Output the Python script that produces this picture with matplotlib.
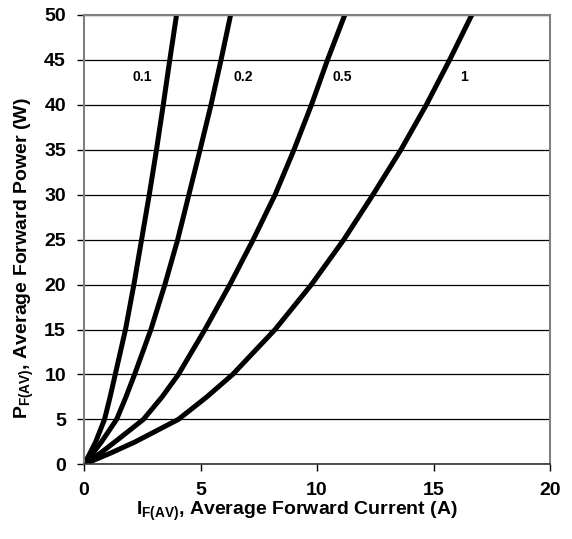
import matplotlib.pyplot as plt

plt.rcParams['font.family'] = 'Liberation Sans'
plt.rcParams['font.weight'] = 'bold'
plt.rcParams['mathtext.fontset'] = 'custom'
plt.rcParams['mathtext.rm'] = 'Liberation Sans:bold'
plt.rcParams['mathtext.it'] = 'Liberation Sans:bold'
plt.rcParams['mathtext.bf'] = 'Liberation Sans:bold'

# forward power (W) and the current (A)
power = [0, 1.2, 2.5, 5, 7.5, 10, 15, 20, 25, 30, 35, 40, 45, 50]
current_01 = [0, 0.25, 0.50, 0.88, 1.12, 1.34, 1.78, 2.14, 2.47, 2.80, 3.11, 3.40, 3.68, 3.97]
current_02 = [0, 0.37, 0.75, 1.40, 1.80, 2.17, 2.87, 3.47, 4.02, 4.50, 4.98, 5.45, 5.88, 6.29]
current_05 = [0, 0.68, 1.33, 2.55, 3.35, 4.05, 5.19, 6.26, 7.26, 8.20, 9.01, 9.76, 10.45, 11.19]
current_1 = [0, 1.10, 2.20, 4.05, 5.27, 6.38, 8.2, 9.76, 11.15, 12.4, 13.6, 14.69, 15.69, 16.64]

labels = ['0.1', '0.2', '0.5', '1']
label_x = [2.5, 6.85, 11.1, 16.3]
label_y = 43.1

fig = plt.figure(figsize=(5.72, 5.39), dpi=100)
ax = fig.add_axes([0.1469, 0.1386, 0.8147, 0.8336])

for cur in [current_01, current_02, current_05, current_1]:
    ax.plot(cur, power, color='black', linewidth=3.6, solid_joinstyle='round')

for lab, lx in zip(labels, label_x):
    ax.text(lx, label_y, lab, fontsize=10, fontweight='bold', ha='center', va='center')

ax.set_xlim(0, 20)
ax.set_ylim(0, 50)
ax.set_xticks([0, 5, 10, 15, 20])
ax.set_yticks(range(0, 51, 5))
ax.yaxis.grid(True, color='black', linewidth=0.9)
ax.set_axisbelow(True)

for side in ['top', 'right', 'left']:
    ax.spines[side].set_color('#808080')
    ax.spines[side].set_linewidth(1.5)
ax.spines['bottom'].set_color('#333333')
ax.spines['bottom'].set_linewidth(1.2)

ax.tick_params(axis='x', direction='out', length=5, width=1, pad=8, labelsize=14)
ax.tick_params(axis='y', direction='out', length=5, width=1, pad=8, labelsize=14)

ax.set_xlabel(r'$I_{F(AV)}$, Average Forward Current (A)', fontsize=14, fontweight='bold',
              labelpad=0, x=0.457)
ax.set_ylabel(r'$P_{F(AV)}$, Average Forward Power (W)', fontsize=14, fontweight='bold',
              labelpad=6, y=0.46)

fig.savefig('out.png', dpi=100)
